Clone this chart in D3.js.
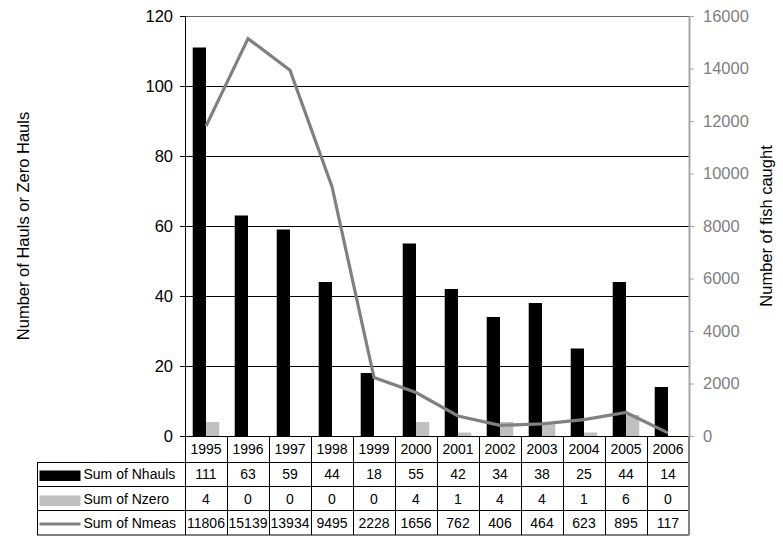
<!DOCTYPE html>
<html><head><meta charset="utf-8">
<script src="https://cdn.jsdelivr.net/npm/d3@7"></script>
<style>body{margin:0;background:#fff}svg{display:block}svg text{font-family:"Liberation Sans",Arial,sans-serif}</style>
</head><body>
<svg id="c" width="783" height="547"></svg>
<script>
const years = ["1995","1996","1997","1998","1999","2000","2001","2002","2003","2004","2005","2006"];
const nhauls = [111,63,59,44,18,55,42,34,38,25,44,14];
const nzero = [4,0,0,0,0,4,1,4,4,1,6,0];
const nmeas = [11806,15139,13934,9495,2228,1656,762,406,464,623,895,117];
const leftTicks = [0,20,40,60,80,100,120];
const rightTicks = [0,2000,4000,6000,8000,10000,12000,14000,16000];
const seriesNames = ["Sum of Nhauls","Sum of Nzero","Sum of Nmeas"];

const FF = "'Liberation Sans', Arial, sans-serif";
const svg = d3.select("#c");
const L = 185, R = 689, T = 16, B = 436;
const x = d3.scaleBand().domain(years).range([L, R]).padding(0);
const sub = d3.scaleBand().domain(["h","z"]).range([0, x.bandwidth()]).paddingInner(0).paddingOuter(0.58);
const yL = d3.scaleLinear().domain([0,120]).range([B, T]);
const yR = d3.scaleLinear().domain([0,16000]).range([B, T]);

// gridlines
svg.append("g").selectAll("line").data(leftTicks.filter(d=>d>0)).join("line")
  .attr("x1", L).attr("x2", R).attr("y1", d=>yL(d)).attr("y2", d=>yL(d))
  .attr("stroke", d=> d===120 ? "#666" : "#000").attr("stroke-width",1).attr("shape-rendering","crispEdges");

// bars
svg.append("g").selectAll("rect").data(nhauls).join("rect")
  .attr("x",(d,i)=>x(years[i])+sub("h")).attr("width",sub.bandwidth())
  .attr("y",d=>yL(d)).attr("height",d=>B-yL(d)).attr("fill","#000");
svg.append("g").selectAll("rect").data(nzero).join("rect")
  .attr("x",(d,i)=>x(years[i])+sub("z")).attr("width",sub.bandwidth())
  .attr("y",d=>yL(d)).attr("height",d=>B-yL(d)).attr("fill","#c0c0c0");

// line
const line = d3.line().x((d,i)=>x(years[i])+x.bandwidth()/2).y(d=>yR(d));
svg.append("path").datum(nmeas).attr("d",line).attr("fill","none")
  .attr("stroke","#808080").attr("stroke-width",3.2).attr("stroke-linejoin","miter");

// left axis
const gl = svg.append("g").attr("transform",`translate(${L},0)`)
  .call(d3.axisLeft(yL).tickValues(leftTicks).tickSize(5).tickPadding(7).tickSizeOuter(0));
gl.attr("font-family", FF).attr("font-size", 16.5);
gl.select(".domain").attr("stroke","#000");
gl.selectAll("text").attr("fill","#000");
gl.selectAll(".tick line").attr("stroke","#000");

// right axis
const gr = svg.append("g").attr("transform",`translate(${R},0)`)
  .call(d3.axisRight(yR).tickValues(rightTicks).tickFormat(d3.format("d")).tickSize(5).tickPadding(9).tickSizeOuter(0));
gr.attr("font-family", FF).attr("font-size", 16.5);
gr.select(".domain").attr("stroke","#a6a6a6").attr("stroke-width",2);
gr.selectAll(".tick line").attr("stroke","#a6a6a6");
gr.selectAll("text").attr("fill","#808080");

// axis titles
svg.append("text").attr("transform",`translate(29,${(T+B)/2}) rotate(-90)`)
  .attr("text-anchor","middle").attr("font-size","16.5px").text("Number of Hauls or Zero Hauls");
svg.append("text").attr("transform",`translate(772,${(T+B)/2}) rotate(-90)`)
  .attr("text-anchor","middle").attr("font-size","16.5px").text("Number of fish caught");

// data table
const TL = 37, rowH = [436, 462, 486.3, 510.7, 535];
const tg = svg.append("g").attr("shape-rendering","crispEdges");
tg.append("line").attr("x1",L).attr("x2",R).attr("y1",B).attr("y2",B).attr("stroke","#000");
rowH.slice(1).forEach((yy,k)=>{
  tg.append("line").attr("x1",TL).attr("x2",R).attr("y1",yy).attr("y2",yy)
    .attr("stroke", k===3 ? "#808080" : "#000").attr("stroke-width", k===3 ? 2 : 1);
});
const vx = years.map(d=>x(d)).concat([R]);
vx.forEach((xx,i)=>{
  tg.append("line").attr("x1",xx).attr("x2",xx).attr("y1",B).attr("y2",535)
    .attr("stroke", i===vx.length-1 ? "#808080" : "#000").attr("stroke-width", i===vx.length-1 ? 2 : 1);
});
tg.append("line").attr("x1",TL).attr("x2",TL).attr("y1",462).attr("y2",535).attr("stroke","#000");

svg.append("g").selectAll("text").data(years).join("text")
  .attr("x",d=>x(d)+x.bandwidth()/2).attr("y",(rowH[0]+rowH[1])/2+5)
  .attr("text-anchor","middle").attr("font-size","14px").text(d=>d);
const rows = [nhauls, nzero, nmeas];
rows.forEach((arr,r)=>{
  svg.append("g").selectAll("text").data(arr).join("text")
    .attr("x",(d,i)=>x(years[i])+x.bandwidth()/2).attr("y",(rowH[r+1]+rowH[r+2])/2+5)
    .attr("text-anchor","middle").attr("font-size","14px").text(d=>d);
  svg.append("text").attr("x",83.5).attr("y",(rowH[r+1]+rowH[r+2])/2+5)
    .attr("font-size","14px").text(seriesNames[r]);
});
svg.append("rect").attr("x",39.5).attr("y",470.5).attr("width",41).attr("height",10.5).attr("fill","#000");
svg.append("rect").attr("x",39.5).attr("y",495.5).attr("width",41).attr("height",10.5).attr("fill","#c0c0c0");
svg.append("line").attr("x1",39.5).attr("x2",80.5).attr("y1",524).attr("y2",524).attr("stroke","#808080").attr("stroke-width",3);
</script>
</body></html>
